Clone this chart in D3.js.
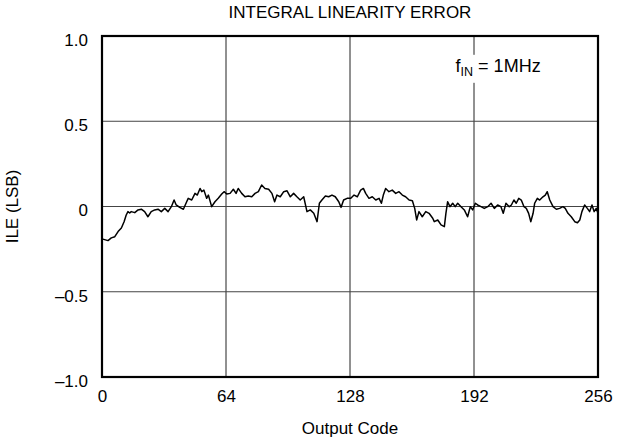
<!DOCTYPE html>
<html>
<head>
<meta charset="utf-8">
<script src="https://cdn.jsdelivr.net/npm/d3@7"></script>
<style>
  body { margin: 0; background: #fff; }
  text { font-family: "Liberation Sans", Arial, sans-serif; fill: #000; }
</style>
</head>
<body>
<script>
const xTicks = [0, 64, 128, 192, 256];
const yTicks = [1.0, 0.5, 0, -0.5, -1.0];
const yTickLabels = ["1.0", "0.5", "0", "\u20130.5", "\u20131.0"];

// output code / ILE
const codes = [0, 3.1, 4.8, 6.6, 8.3, 10.0, 11.4, 12.5, 13.4, 14.3, 15.1, 16.9, 18.6, 20.3, 22.0, 23.7, 25.4, 27.2, 28.9, 30.6,
  32.4, 34.1, 35.8, 37.2, 38.3, 40.1, 42.0, 43.7, 44.5, 46.3, 48.0, 49.2, 50.6, 51.5, 52.6, 54.0, 54.9, 56.6, 58.3, 60.0,
  61.8, 63.0, 64.4, 66.1, 67.8, 69.2, 70.3, 72.1, 73.8, 75.5, 77.3, 79.0, 80.7, 82.4, 84.1, 86.0, 87.7, 89.1, 90.3, 92.0,
  93.8, 95.5, 97.2, 98.9, 100.6, 102.3, 104.1, 105.8, 107.5, 109.3, 111.0, 112.2, 113.5, 115.3, 117.0, 118.7, 120.4, 122.2, 123.4, 124.7,
  126.5, 128.4, 130.1, 131.8, 133.5, 134.9, 136.1, 137.8, 139.5, 141.3, 143.0, 144.2, 145.2, 146.4, 148.1, 149.8, 151.6, 153.3, 155.0, 156.7,
  158.5, 160.2, 161.4, 162.4, 163.6, 165.3, 167.1, 168.8, 170.7, 171.5, 173.3, 175.0, 176.7, 177.5, 178.4, 179.6, 181.0, 182.3, 183.6, 185.3,
  187.0, 188.7, 190.1, 191.3, 192.7, 193.9, 195.6, 197.3, 199.1, 200.8, 202.5, 204.2, 205.9, 207.1, 208.5, 210.2, 211.3, 212.6, 213.8, 215.1,
  216.4, 217.8, 219.0, 220.2, 221.3, 222.5, 223.3, 224.7, 225.9, 227.6, 228.8, 229.8, 231.1, 232.8, 234.5, 236.2, 237.9, 239.1, 240.5, 242.2,
  244.0, 245.4, 246.6, 247.7, 249.1, 250.5, 251.7, 252.9, 254.0, 255.1, 256];
const ile = [-0.190, -0.200, -0.184, -0.177, -0.147, -0.126, -0.089, -0.050, -0.030, -0.038, -0.030, -0.036, -0.020, -0.016, -0.030, -0.060, -0.030, -0.020, -0.016, -0.030,
  -0.011, -0.030, -0.001, 0.038, 0.009, -0.005, -0.016, 0.028, 0.048, 0.038, 0.077, 0.067, 0.106, 0.087, 0.096, 0.048, 0.067, -0.001, 0.028, 0.048,
  0.073, 0.087, 0.073, 0.077, 0.101, 0.077, 0.106, 0.077, 0.057, 0.061, 0.057, 0.077, 0.087, 0.126, 0.106, 0.101, 0.077, 0.028, 0.067, 0.057,
  0.087, 0.092, 0.057, 0.077, 0.057, 0.038, 0.057, -0.030, -0.020, -0.040, -0.089, 0.019, 0.038, 0.061, 0.057, 0.067, 0.057, 0.028, -0.005, 0.038,
  0.048, 0.048, 0.067, 0.057, 0.096, 0.106, 0.077, 0.048, 0.057, 0.038, 0.048, 0.019, 0.067, 0.106, 0.087, 0.096, 0.077, 0.087, 0.067, 0.057,
  0.038, 0.034, -0.011, -0.079, -0.030, -0.060, -0.030, -0.040, -0.069, -0.089, -0.079, -0.108, -0.118, -0.040, 0.028, -0.001, 0.019, -0.001, 0.019, -0.001,
  -0.020, -0.060, -0.001, -0.020, 0.019, 0.009, -0.001, -0.011, -0.001, 0.019, -0.011, 0.009, -0.001, -0.040, 0.019, -0.001, 0.009, 0.038, 0.019, 0.048,
  0.038, -0.001, -0.011, -0.040, -0.089, -0.040, 0.019, 0.048, 0.038, 0.057, 0.067, 0.087, 0.038, -0.001, -0.016, -0.011, -0.001, -0.011, -0.040, -0.060,
  -0.089, -0.095, -0.079, -0.030, 0.009, -0.011, -0.030, 0.009, -0.030, -0.011, -0.040];

const W = 623, H = 444;
const m = { left: 102, right: 25, top: 36, bottom: 67 };

const svg = d3.select("body").append("svg")
  .attr("width", W)
  .attr("height", H);

const x = d3.scaleLinear().domain([0, 256]).range([m.left, W - m.right]);
const y = d3.scaleLinear().domain([-1, 1]).range([H - m.bottom, m.top]);

// grid
svg.append("g")
  .selectAll("line.v")
  .data(xTicks.slice(1, -1))
  .join("line")
  .attr("x1", d => x(d)).attr("x2", d => x(d))
  .attr("y1", y(1)).attr("y2", y(-1))
  .attr("stroke", "#222").attr("stroke-width", 1);

svg.append("g")
  .selectAll("line.h")
  .data(yTicks.slice(1, -1))
  .join("line")
  .attr("x1", x(0)).attr("x2", x(256))
  .attr("y1", d => y(d)).attr("y2", d => y(d))
  .attr("stroke", "#444").attr("stroke-width", 1);

// annotation box breaks the grid line
const note = svg.append("g").attr("transform", `translate(${x(182.5)},${y(0.79)})`);
note.append("rect")
  .attr("x", -2).attr("y", -17).attr("width", 92).attr("height", 28)
  .attr("fill", "#fff");
const nt = note.append("text").attr("font-size", 18);
nt.append("tspan").text("f");
nt.append("tspan").attr("font-size", 12.5).attr("dy", 4).text("IN");
nt.append("tspan").attr("dy", -4).text(" = 1MHz");

// trace
const pts = codes.map((c, i) => [c, ile[i]]);
svg.append("path")
  .datum(pts)
  .attr("fill", "none")
  .attr("stroke", "#000")
  .attr("stroke-width", 1.5)
  .attr("stroke-linejoin", "round")
  .attr("d", d3.line().x(d => x(d[0])).y(d => y(d[1])));

// frame
svg.append("rect")
  .attr("x", x(0)).attr("y", y(1))
  .attr("width", x(256) - x(0)).attr("height", y(-1) - y(1))
  .attr("fill", "none").attr("stroke", "#000").attr("stroke-width", 2.2);

// axes
const xAxis = svg.append("g")
  .attr("transform", `translate(0,${y(-1)})`)
  .call(d3.axisBottom(x).tickValues(xTicks).tickSize(0).tickPadding(13).tickFormat(d3.format("d")));
xAxis.select(".domain").remove();
xAxis.selectAll("text").attr("font-size", 17).attr("font-family", null);

const yAxis = svg.append("g")
  .attr("transform", `translate(${x(0)},0)`)
  .call(d3.axisLeft(y).tickValues(yTicks).tickSize(0).tickPadding(14)
    .tickFormat((d, i) => yTickLabels[i]));
yAxis.select(".domain").remove();
yAxis.selectAll("text").attr("font-size", 17).attr("font-family", null).attr("dy", "0.55em");

svg.append("text")
  .attr("x", 350).attr("y", 18)
  .attr("text-anchor", "middle").attr("font-size", 17)
  .text("INTEGRAL LINEARITY ERROR");

svg.append("text")
  .attr("x", 350).attr("y", 434)
  .attr("text-anchor", "middle").attr("font-size", 17)
  .text("Output Code");

svg.append("text")
  .attr("transform", `translate(18,${y(0)}) rotate(-90)`)
  .attr("text-anchor", "middle").attr("font-size", 17)
  .text("ILE (LSB)");
</script>
</body>
</html>
